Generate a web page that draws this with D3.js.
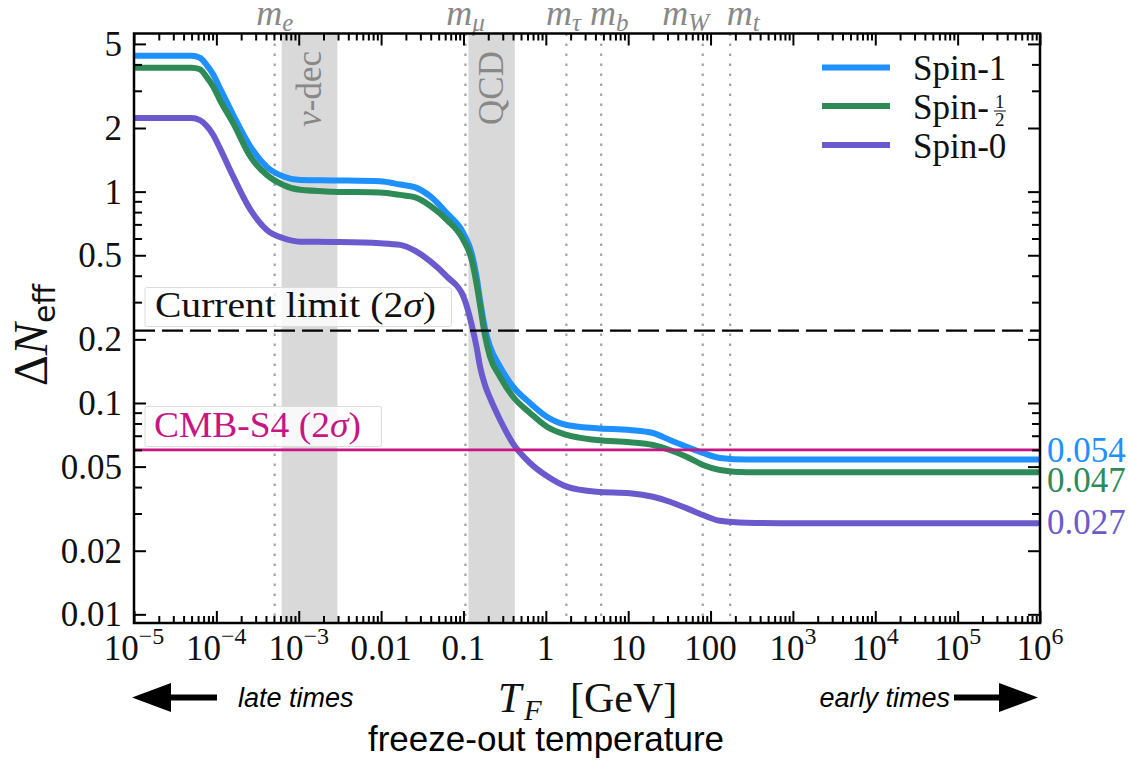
<!DOCTYPE html>
<html>
<head>
<meta charset="utf-8">
<script src="https://cdn.jsdelivr.net/npm/d3@7"></script>
<style>
  body { margin: 0; background: #fff; }
  svg { display: block; }
</style>
</head>
<body>
<svg id="chart" width="1128" height="763"></svg>
<script>
// ---- data ---------------------------------------------------------------
// Freeze-out temperature grid (GeV) shared by the three curves
const temps = [1e-5, 5.0e-5, 6.3e-5, 7.6e-5, 9.2e-5, 1.1e-4, 1.6e-4, 2.6e-4, 4.1e-4, 6.5e-4,
  1.04e-3, 2.6e-3, 9.7e-3, 0.017, 0.026, 0.039, 0.063, 0.1, 0.126, 0.145, 0.159,
  0.182, 0.21, 0.278, 0.40, 0.643, 1.03, 1.79, 4.15, 10.5, 20,
  32, 51, 81, 130, 275, 700, 1e6];

// ΔN_eff for each spin
const spin1 = [4.39, 4.39, 4.30, 3.98, 3.57, 3.10, 2.31, 1.63, 1.31, 1.18,
  1.136, 1.13, 1.12, 1.08, 1.047, 0.954, 0.79, 0.635, 0.51, 0.391, 0.307,
  0.226, 0.185, 0.1485, 0.1195, 0.0999, 0.0861, 0.0787, 0.0759, 0.0745, 0.0721,
  0.0668, 0.0621, 0.058, 0.0549, 0.054, 0.054, 0.054];
const spinHalf = [3.86, 3.86, 3.79, 3.49, 3.13, 2.72, 2.11, 1.46, 1.20, 1.076,
  1.02, 1.0, 0.99, 0.965, 0.939, 0.86, 0.735, 0.59, 0.475, 0.362, 0.291,
  0.21, 0.1656, 0.1332, 0.107, 0.0897, 0.0772, 0.0706, 0.0668, 0.0652, 0.0633,
  0.0599, 0.0557, 0.0509, 0.0482, 0.047, 0.047, 0.047];
const spin0 = [2.23, 2.23, 2.18, 2.05, 1.85, 1.61, 1.18, 0.819, 0.659, 0.602,
  0.58, 0.578, 0.57, 0.56, 0.524, 0.47, 0.396, 0.3185, 0.234, 0.182, 0.1485,
  0.122, 0.1056, 0.0833, 0.0642, 0.052, 0.0451, 0.0402, 0.038, 0.0374, 0.036,
  0.0341, 0.0318, 0.0295, 0.0277, 0.0271, 0.027, 0.027];

const seriesNames = ["Spin-1", "Spin-\u00BD", "Spin-0"];
const seriesColors = ["#1e90ff", "#2e8b57", "#6a5acd"];
const seriesValues = [spin1, spinHalf, spin0];
const finalLabels = ["0.054", "0.047", "0.027"];

// Particle mass thresholds (GeV)
const massNames = ["e", "\u03BC", "\u03C4", "b", "W", "t"];
const massValues = [5.11e-4, 0.1057, 1.777, 4.7, 80.4, 173];

// Shaded transition windows (GeV)
const bandNames = ["\u03BD-dec", "QCD"];
const bandStart = [6.2e-4, 0.115];
const bandEnd = [2.95e-3, 0.42];

// Sensitivity lines
const currentLimit = 0.22;
const cmbS4 = 0.06;

// Tick values and labels
const xTickVals = [1e-5, 1e-4, 1e-3, 0.01, 0.1, 1, 10, 100, 1e3, 1e4, 1e5, 1e6];
const xTickBase = ["10", "10", "10", "0.01", "0.1", "1", "10", "100", "10", "10", "10", "10"];
const xTickSup = ["\u22125", "\u22124", "\u22123", "", "", "", "", "", "3", "4", "5", "6"];
const yTickVals = [0.01, 0.02, 0.05, 0.1, 0.2, 0.5, 1, 2, 5];
const yTickLabels = ["0.01", "0.02", "0.05", "0.1", "0.2", "0.5", "1", "2", "5"];

// ---- layout -------------------------------------------------------------
const svg = d3.select("#chart");
const plot = { left: 134, right: 1040, top: 33.5, bottom: 623 };
const SERIF = "'Liberation Serif','Times New Roman',serif";
const SANS = "'Liberation Sans',Arial,sans-serif";
const GREY = "#888888";
const massLabelShift = [0, 0, -3, 8, -17, 13];
const finalLabelShift = [2, 20, 11];

const x = d3.scaleLog().domain([1e-5, 1e6]).range([plot.left, plot.right]);
const y = d3.scaleLog().domain([0.0091, 5.6]).range([plot.bottom, plot.top]);

// stretch a text element horizontally around its start so it spans `w` px
function fitWidth(sel, w, x0) {
  const bb = sel.node().getBBox();
  const k = w / bb.width;
  sel.attr("transform", `translate(${x0},0) scale(${k},1) translate(${-x0},0)`);
}

// ---- shaded windows and mass thresholds ----------------------------------
svg.append("g").selectAll("rect").data(bandNames).join("rect")
  .attr("x", (d, i) => x(bandStart[i]))
  .attr("width", (d, i) => x(bandEnd[i]) - x(bandStart[i]))
  .attr("y", plot.top).attr("height", plot.bottom - plot.top)
  .attr("fill", "#d9d9d9");

svg.append("g").selectAll("line").data(massValues).join("line")
  .attr("x1", d => x(d)).attr("x2", d => x(d))
  .attr("y1", plot.top).attr("y2", plot.bottom)
  .attr("stroke", "#a3a3a3").attr("stroke-width", 2.2)
  .attr("stroke-dasharray", "2.5,7.5");

// band captions, rotated
bandNames.forEach((name, i) => {
  const cx = (x(bandStart[i]) + x(bandEnd[i])) / 2 + 11;
  const t = svg.append("text")
    .attr("transform", `translate(${cx},51) rotate(-90)`)
    .attr("text-anchor", "end")
    .attr("font-family", SERIF).attr("font-size", 35).attr("fill", GREY);
  if (i === 0) {
    t.append("tspan").attr("font-style", "italic").text("\u03BD");
    t.append("tspan").text("-dec");
  } else {
    t.text(name);
  }
});

// mass labels above the frame
massNames.forEach((n, i) => {
  const t = svg.append("text")
    .attr("x", x(massValues[i]) + massLabelShift[i]).attr("y", 25)
    .attr("text-anchor", "middle")
    .attr("font-family", SERIF).attr("fill", GREY);
  t.append("tspan").attr("font-style", "italic").attr("font-size", 36).text("m");
  t.append("tspan").attr("font-style", "italic").attr("font-size", 25).attr("dy", 6).text(n);
});

// ---- curves ---------------------------------------------------------------
const line = d3.line()
  .x(d => x(d[0])).y(d => y(d[1]))
  .curve(d3.curveMonotoneX);

svg.append("g").selectAll("path").data(seriesValues).join("path")
  .attr("d", vals => line(temps.map((t, j) => [t, vals[j]])))
  .attr("fill", "none")
  .attr("stroke", (d, i) => seriesColors[i])
  .attr("stroke-width", 6)
  .attr("stroke-linejoin", "round");

// ---- sensitivity lines ------------------------------------------------------
svg.append("line")
  .attr("x1", plot.left).attr("x2", plot.right)
  .attr("y1", y(currentLimit)).attr("y2", y(currentLimit))
  .attr("stroke", "#000").attr("stroke-width", 2.4)
  .attr("stroke-dasharray", "21,7");

svg.append("line")
  .attr("x1", plot.left).attr("x2", plot.right)
  .attr("y1", y(cmbS4)).attr("y2", y(cmbS4))
  .attr("stroke", "#c71585").attr("stroke-width", 2.6);

// annotation boxes
function labelBox(y0, y1, x1) {
  svg.append("rect")
    .attr("x", 145).attr("y", y0).attr("width", x1 - 145).attr("height", y1 - y0)
    .attr("rx", 2)
    .attr("fill", "#fff").attr("fill-opacity", 0.8)
    .attr("stroke", "#dcdcdc").attr("stroke-width", 1);
}
labelBox(287.5, 326.5, 451.5);
labelBox(406.5, 446.5, 381.5);

const cl = svg.append("text")
  .attr("x", 155).attr("y", y(currentLimit) - 13.5)
  .attr("font-family", SERIF).attr("font-size", 35).attr("fill", "#111");
cl.append("tspan").text("Current limit (2");
cl.append("tspan").attr("font-style", "italic").text("\u03C3");
cl.append("tspan").text(")");
fitWidth(cl, 281, 155);

const cs = svg.append("text")
  .attr("x", 154).attr("y", y(cmbS4) - 12.5)
  .attr("font-family", SERIF).attr("font-size", 35).attr("fill", "#c71585");
cs.append("tspan").text("CMB-S4 (2");
cs.append("tspan").attr("font-style", "italic").text("\u03C3");
cs.append("tspan").text(")");
fitWidth(cs, 207, 154);

// ---- frame and ticks ---------------------------------------------------------
const xMinor = [];
for (let k = -5; k < 6; k++) for (let m = 2; m <= 9; m++) xMinor.push(m * Math.pow(10, k));
const yMinor = [];
for (let k = -2; k <= 0; k++) for (let m = 1; m <= 9; m++) {
  const v = +(m * Math.pow(10, k)).toPrecision(3);
  if (v <= 5.6 && !yTickVals.includes(v)) yMinor.push(v);
}

function ticks(axis, transform, vals, len) {
  const g = svg.append("g").attr("transform", transform)
    .call(axis.tickValues(vals).tickSize(-len).tickFormat(""));
  g.select(".domain").remove();
  g.selectAll("line").attr("stroke", "#000").attr("stroke-width", 2);
  g.selectAll("text").remove();
}
ticks(d3.axisBottom(x), `translate(0,${plot.bottom})`, xTickVals, 12);
ticks(d3.axisBottom(x), `translate(0,${plot.bottom})`, xMinor, 7);
ticks(d3.axisTop(x), `translate(0,${plot.top})`, xTickVals, 12);
ticks(d3.axisTop(x), `translate(0,${plot.top})`, xMinor, 7);
ticks(d3.axisLeft(y), `translate(${plot.left},0)`, yTickVals, 12);
ticks(d3.axisLeft(y), `translate(${plot.left},0)`, yMinor, 8);
ticks(d3.axisRight(y), `translate(${plot.right},0)`, yTickVals, 12);
ticks(d3.axisRight(y), `translate(${plot.right},0)`, yMinor, 8);

svg.append("rect")
  .attr("x", plot.left).attr("y", plot.top)
  .attr("width", plot.right - plot.left).attr("height", plot.bottom - plot.top)
  .attr("fill", "none").attr("stroke", "#000").attr("stroke-width", 2.5);

// y tick labels
svg.append("g").selectAll("text").data(yTickVals).join("text")
  .attr("x", 122).attr("y", d => y(d) + 12)
  .attr("text-anchor", "end")
  .attr("font-family", SERIF).attr("font-size", 35).attr("fill", "#111")
  .text((d, i) => yTickLabels[i]);

// x tick labels with superscripts
xTickVals.forEach((v, i) => {
  const t = svg.append("text")
    .attr("x", x(v)).attr("y", 660)
    .attr("text-anchor", "middle")
    .attr("font-family", SERIF).attr("font-size", 35).attr("fill", "#111");
  t.append("tspan").text(xTickBase[i]);
  if (xTickSup[i]) t.append("tspan").attr("font-size", 24).attr("dy", -16).text(xTickSup[i]);
});

// ---- axis titles -----------------------------------------------------------
const yl = svg.append("text")
  .attr("transform", "translate(47,386) rotate(-90)")
  .attr("font-family", SERIF).attr("font-size", 48).attr("fill", "#111");
yl.append("tspan").text("\u0394");
yl.append("tspan").attr("font-style", "italic").text("N");
yl.append("tspan").attr("font-family", "'DejaVu Sans',sans-serif").attr("font-size", 30)
  .attr("dy", 8).text("eff");

const xl = svg.append("text")
  .attr("x", 498).attr("y", 712)
  .attr("font-family", SERIF).attr("font-size", 42).attr("fill", "#111");
xl.append("tspan").attr("font-style", "italic").text("T");
xl.append("tspan").attr("x", 524).attr("font-style", "italic").attr("font-size", 29).attr("dy", 8).text("F");
xl.append("tspan").attr("x", 570).attr("dy", -8).text("[GeV]");

svg.append("text")
  .attr("x", 546).attr("y", 751)
  .attr("text-anchor", "middle")
  .attr("font-family", SANS).attr("font-size", 35).attr("fill", "#000")
  .text("freeze-out temperature");

// time-direction arrows
svg.append("text").attr("x", 238).attr("y", 707)
  .attr("font-family", SANS).attr("font-style", "italic").attr("font-size", 27)
  .text("late times");
svg.append("text").attr("x", 950).attr("y", 707).attr("text-anchor", "end")
  .attr("font-family", SANS).attr("font-style", "italic").attr("font-size", 27)
  .text("early times");

const arrow = d3.line();
svg.append("path")
  .attr("d", arrow([[132, 697.5], [171, 683], [171, 694.5], [217, 694.5], [217, 700.5], [171, 700.5], [171, 712]]) + "Z")
  .attr("fill", "#000");
svg.append("path")
  .attr("d", arrow([[1038, 697.5], [999, 683], [999, 694.5], [954, 694.5], [954, 700.5], [999, 700.5], [999, 712]]) + "Z")
  .attr("fill", "#000");

// ---- end-value labels ------------------------------------------------------
svg.append("g").selectAll("text").data(seriesValues).join("text")
  .attr("x", 1047)
  .attr("y", (vals, i) => y(vals[vals.length - 1]) + finalLabelShift[i])
  .attr("font-family", SERIF).attr("font-size", 35)
  .attr("fill", (d, i) => seriesColors[i])
  .text((d, i) => finalLabels[i]);

// ---- legend ------------------------------------------------------------------
const legendY = [67.5, 106, 145];
seriesNames.forEach((name, i) => {
  svg.append("line")
    .attr("x1", 822).attr("x2", 890).attr("y1", legendY[i]).attr("y2", legendY[i])
    .attr("stroke", seriesColors[i]).attr("stroke-width", 6);
  const t = svg.append("text")
    .attr("x", 913).attr("y", legendY[i] + 12.5)
    .attr("font-family", SERIF).attr("font-size", 35).attr("fill", "#111");
  if (i === 1) {
    t.text("Spin-");
    const fx = 913 + t.node().getComputedTextLength() + 11;
    const ly = legendY[i] + 5;
    svg.append("text").attr("x", fx).attr("y", ly - 3)
      .attr("text-anchor", "middle").attr("font-family", SERIF).attr("font-size", 19)
      .attr("fill", "#111").text("1");
    svg.append("line").attr("x1", fx - 6).attr("x2", fx + 6).attr("y1", ly).attr("y2", ly)
      .attr("stroke", "#111").attr("stroke-width", 1);
    svg.append("text").attr("x", fx).attr("y", ly + 15)
      .attr("text-anchor", "middle").attr("font-family", SERIF).attr("font-size", 19)
      .attr("fill", "#111").text("2");
  } else {
    t.text(name);
  }
});
</script>
</body>
</html>
